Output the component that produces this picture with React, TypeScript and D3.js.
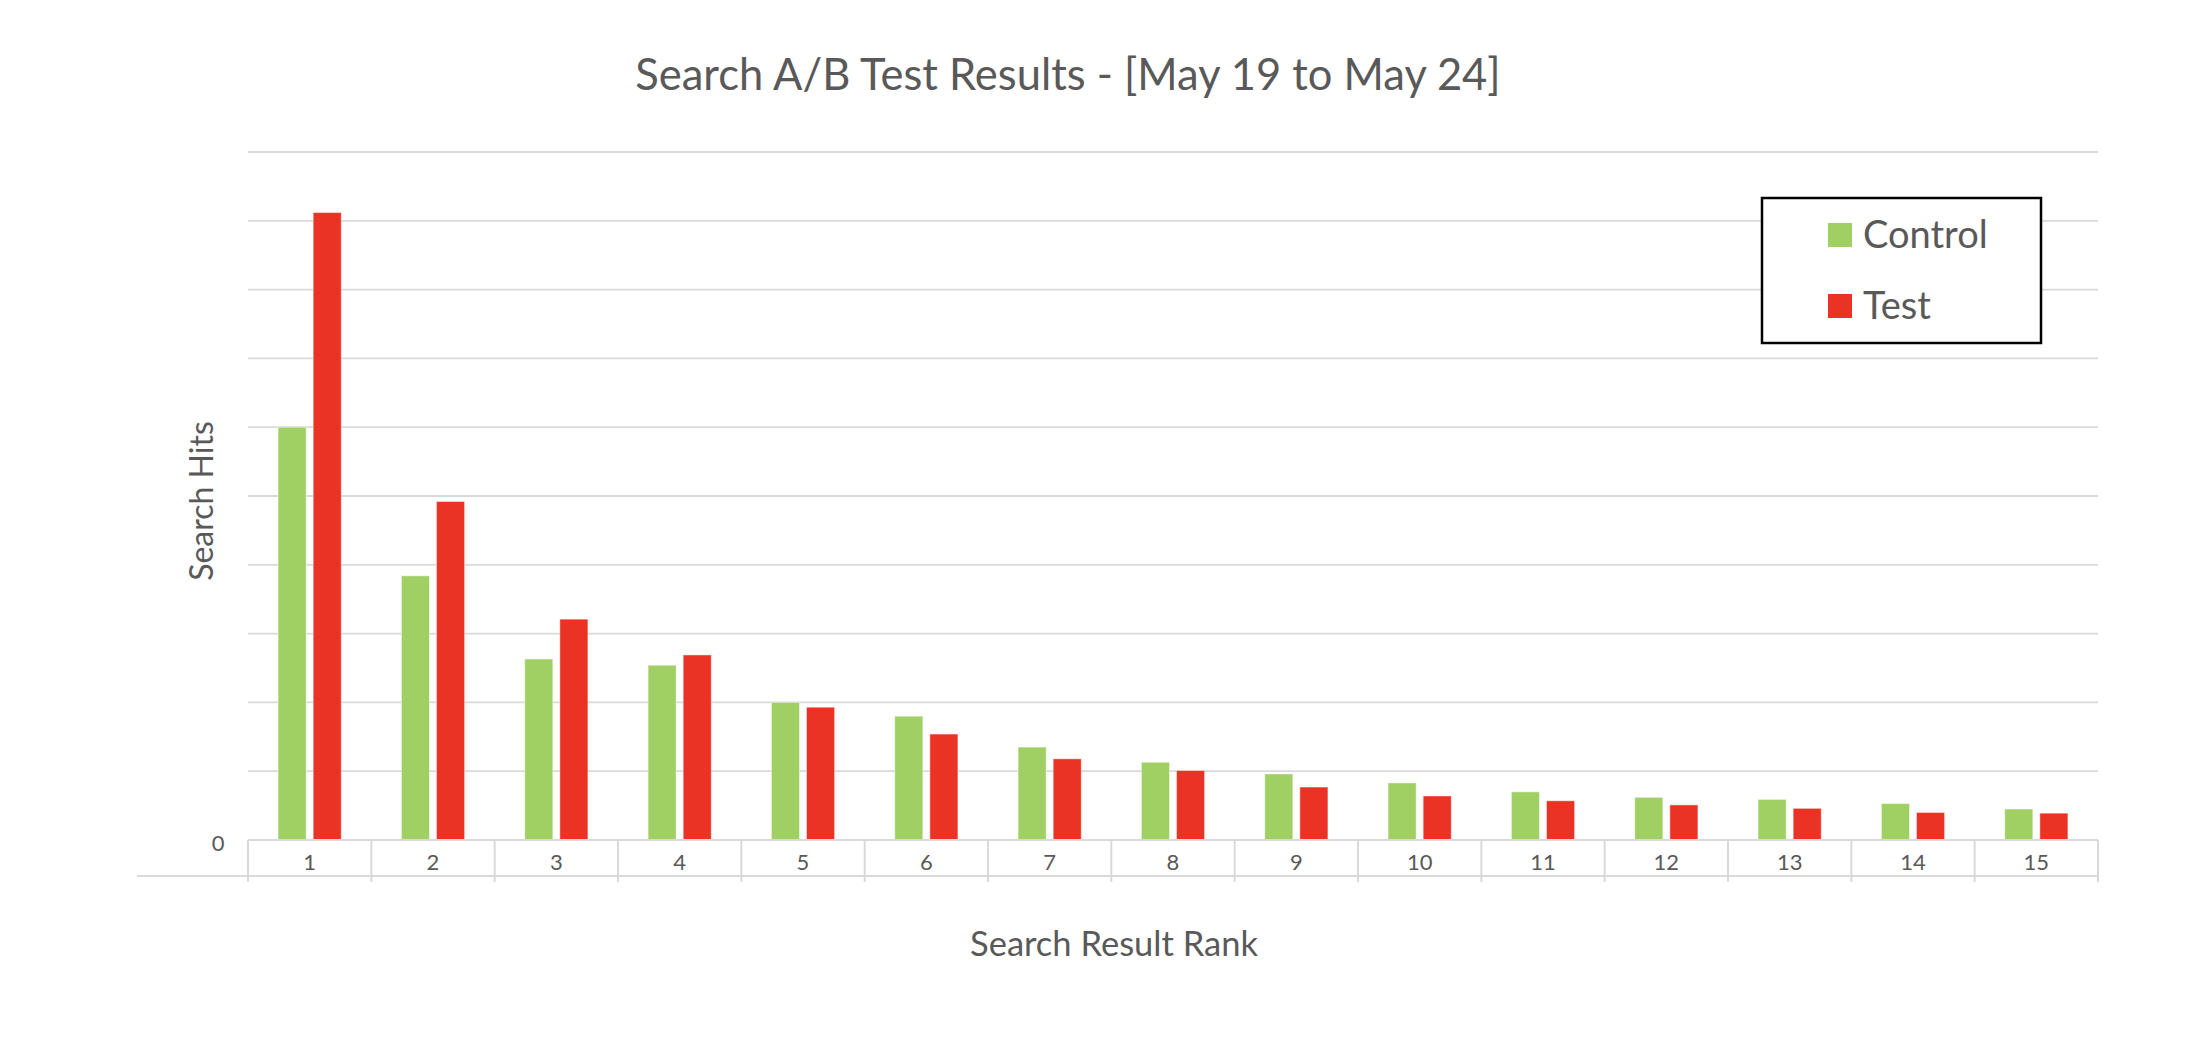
import React, { useEffect, useRef } from 'react';
import * as d3 from 'd3';

// values (gridline step = 100 hits)
const ranks = ['1', '2', '3', '4', '5', '6', '7', '8', '9', '10', '11', '12', '13', '14', '15'];
const controlHits = [600, 384, 263, 254, 200, 180, 135, 113, 96, 83, 70, 62, 59, 53, 45];
const testHits = [912, 492, 321, 269, 193, 154, 118, 101, 77, 64, 57, 51, 46, 40, 39];
const seriesNames = ['Control', 'Test'];
const seriesColors = ['#A0D064', '#EA3324'];
const gridValues = [0, 100, 200, 300, 400, 500, 600, 700, 800, 900, 1000];
const yTickLabels = ['0'];

const W = 2208;
const H = 1052;
const margin = { top: 152, right: 110, bottom: 212, left: 248 };
const FONT = "Lato, 'Open Sans', sans-serif";
const TEXT = '#595959';

const App = () => {
  const ref = useRef<SVGSVGElement>(null);

  useEffect(() => {
    document.body.style.margin = '0';
    const svg = d3.select(ref.current);
    svg.selectAll('*').remove();

    const innerW = W - margin.left - margin.right;
    const innerH = H - margin.top - margin.bottom;

    const x0 = d3.scaleBand().domain(ranks).range([0, innerW]).padding(0);
    const x1 = d3
      .scaleBand()
      .domain(seriesNames)
      .range([0, x0.bandwidth()])
      .paddingInner(0.2)
      .paddingOuter(0.857);
    const y = d3.scaleLinear().domain([0, 1000]).range([innerH, 0]);

    const data = ranks.map((r, i) => ({ rank: r, values: [controlHits[i], testHits[i]] }));

    const g = svg.append('g').attr('transform', `translate(${margin.left},${margin.top})`);

    // gridlines
    g.append('g')
      .selectAll('line')
      .data(gridValues.slice(1))
      .join('line')
      .attr('x1', 0)
      .attr('x2', innerW)
      .attr('y1', (d) => y(d))
      .attr('y2', (d) => y(d))
      .attr('stroke', '#d9d9d9')
      .attr('stroke-width', 1.8);

    // bars
    const groups = g
      .append('g')
      .selectAll('g')
      .data(data)
      .join('g')
      .attr('transform', (d) => `translate(${x0(d.rank)},0)`);

    groups
      .selectAll('rect')
      .data((d) => d.values.map((v, i) => ({ key: seriesNames[i], value: v, color: seriesColors[i] })))
      .join('rect')
      .attr('x', (d) => x1(d.key)!)
      .attr('width', x1.bandwidth())
      .attr('y', (d) => y(d.value))
      .attr('height', (d) => innerH - y(d.value))
      .attr('fill', (d) => d.color)
      .attr('stroke', 'rgba(255,255,255,0.45)')
      .attr('stroke-width', 1);

    // category axis: baseline, boundary ticks, lower line
    g.append('line')
      .attr('x1', 0)
      .attr('x2', innerW)
      .attr('y1', innerH)
      .attr('y2', innerH)
      .attr('stroke', '#d9d9d9')
      .attr('stroke-width', 2);

    g.append('line')
      .attr('x1', 137 - margin.left)
      .attr('x2', innerW)
      .attr('y1', innerH + 36)
      .attr('y2', innerH + 36)
      .attr('stroke', '#d9d9d9')
      .attr('stroke-width', 2);

    const boundaries = ranks.map((r) => x0(r)!).concat([innerW]);
    g.append('g')
      .selectAll('line')
      .data(boundaries)
      .join('line')
      .attr('x1', (d) => d)
      .attr('x2', (d) => d)
      .attr('y1', innerH)
      .attr('y2', innerH + 42)
      .attr('stroke', '#d9d9d9')
      .attr('stroke-width', 2);

    g.append('g')
      .selectAll('text')
      .data(ranks)
      .join('text')
      .attr('x', (d) => x0(d)! + x0.bandwidth() / 2)
      .attr('y', innerH + 30)
      .attr('text-anchor', 'middle')
      .attr('font-family', FONT)
      .attr('font-size', 22)
      .attr('fill', TEXT)
      .text((d) => d);

    // y tick label (only zero is shown)
    g.append('text')
      .attr('x', 218 - margin.left)
      .attr('y', y(0) + 11)
      .attr('text-anchor', 'middle')
      .attr('font-family', FONT)
      .attr('font-size', 22)
      .attr('fill', TEXT)
      .text(yTickLabels[0]);

    // titles
    svg
      .append('text')
      .attr('x', 1068)
      .attr('y', 90)
      .attr('text-anchor', 'middle')
      .attr('font-family', FONT)
      .attr('font-size', 43.5)
      .attr('fill', TEXT)
      .text('Search A/B Test Results - [May 19 to May 24]');

    svg
      .append('text')
      .attr('transform', 'translate(213,501) rotate(-90)')
      .attr('text-anchor', 'middle')
      .attr('font-family', FONT)
      .attr('font-size', 32)
      .attr('fill', TEXT)
      .text('Search Hits');

    svg
      .append('text')
      .attr('x', 1114)
      .attr('y', 956)
      .attr('text-anchor', 'middle')
      .attr('font-family', FONT)
      .attr('font-size', 34.5)
      .attr('fill', TEXT)
      .text('Search Result Rank');

    // legend
    const lg = svg.append('g').attr('transform', 'translate(1762,198)');
    lg.append('rect')
      .attr('width', 279)
      .attr('height', 145)
      .attr('fill', 'white')
      .attr('stroke', '#000')
      .attr('stroke-width', 2.5);
    const items = lg
      .selectAll('g.item')
      .data(seriesNames)
      .join('g')
      .attr('class', 'item')
      .attr('transform', (d, i) => `translate(66,${25 + i * 71})`);
    items
      .append('rect')
      .attr('width', 24)
      .attr('height', 24)
      .attr('fill', (d, i) => seriesColors[i]);
    items
      .append('text')
      .attr('x', 35)
      .attr('y', 25)
      .attr('font-family', FONT)
      .attr('font-size', 38)
      .attr('fill', TEXT)
      .text((d) => d);
  }, []);

  return <svg ref={ref} width={W} height={H} style={{ display: 'block', background: '#fff' }} />;
};

export default App;
